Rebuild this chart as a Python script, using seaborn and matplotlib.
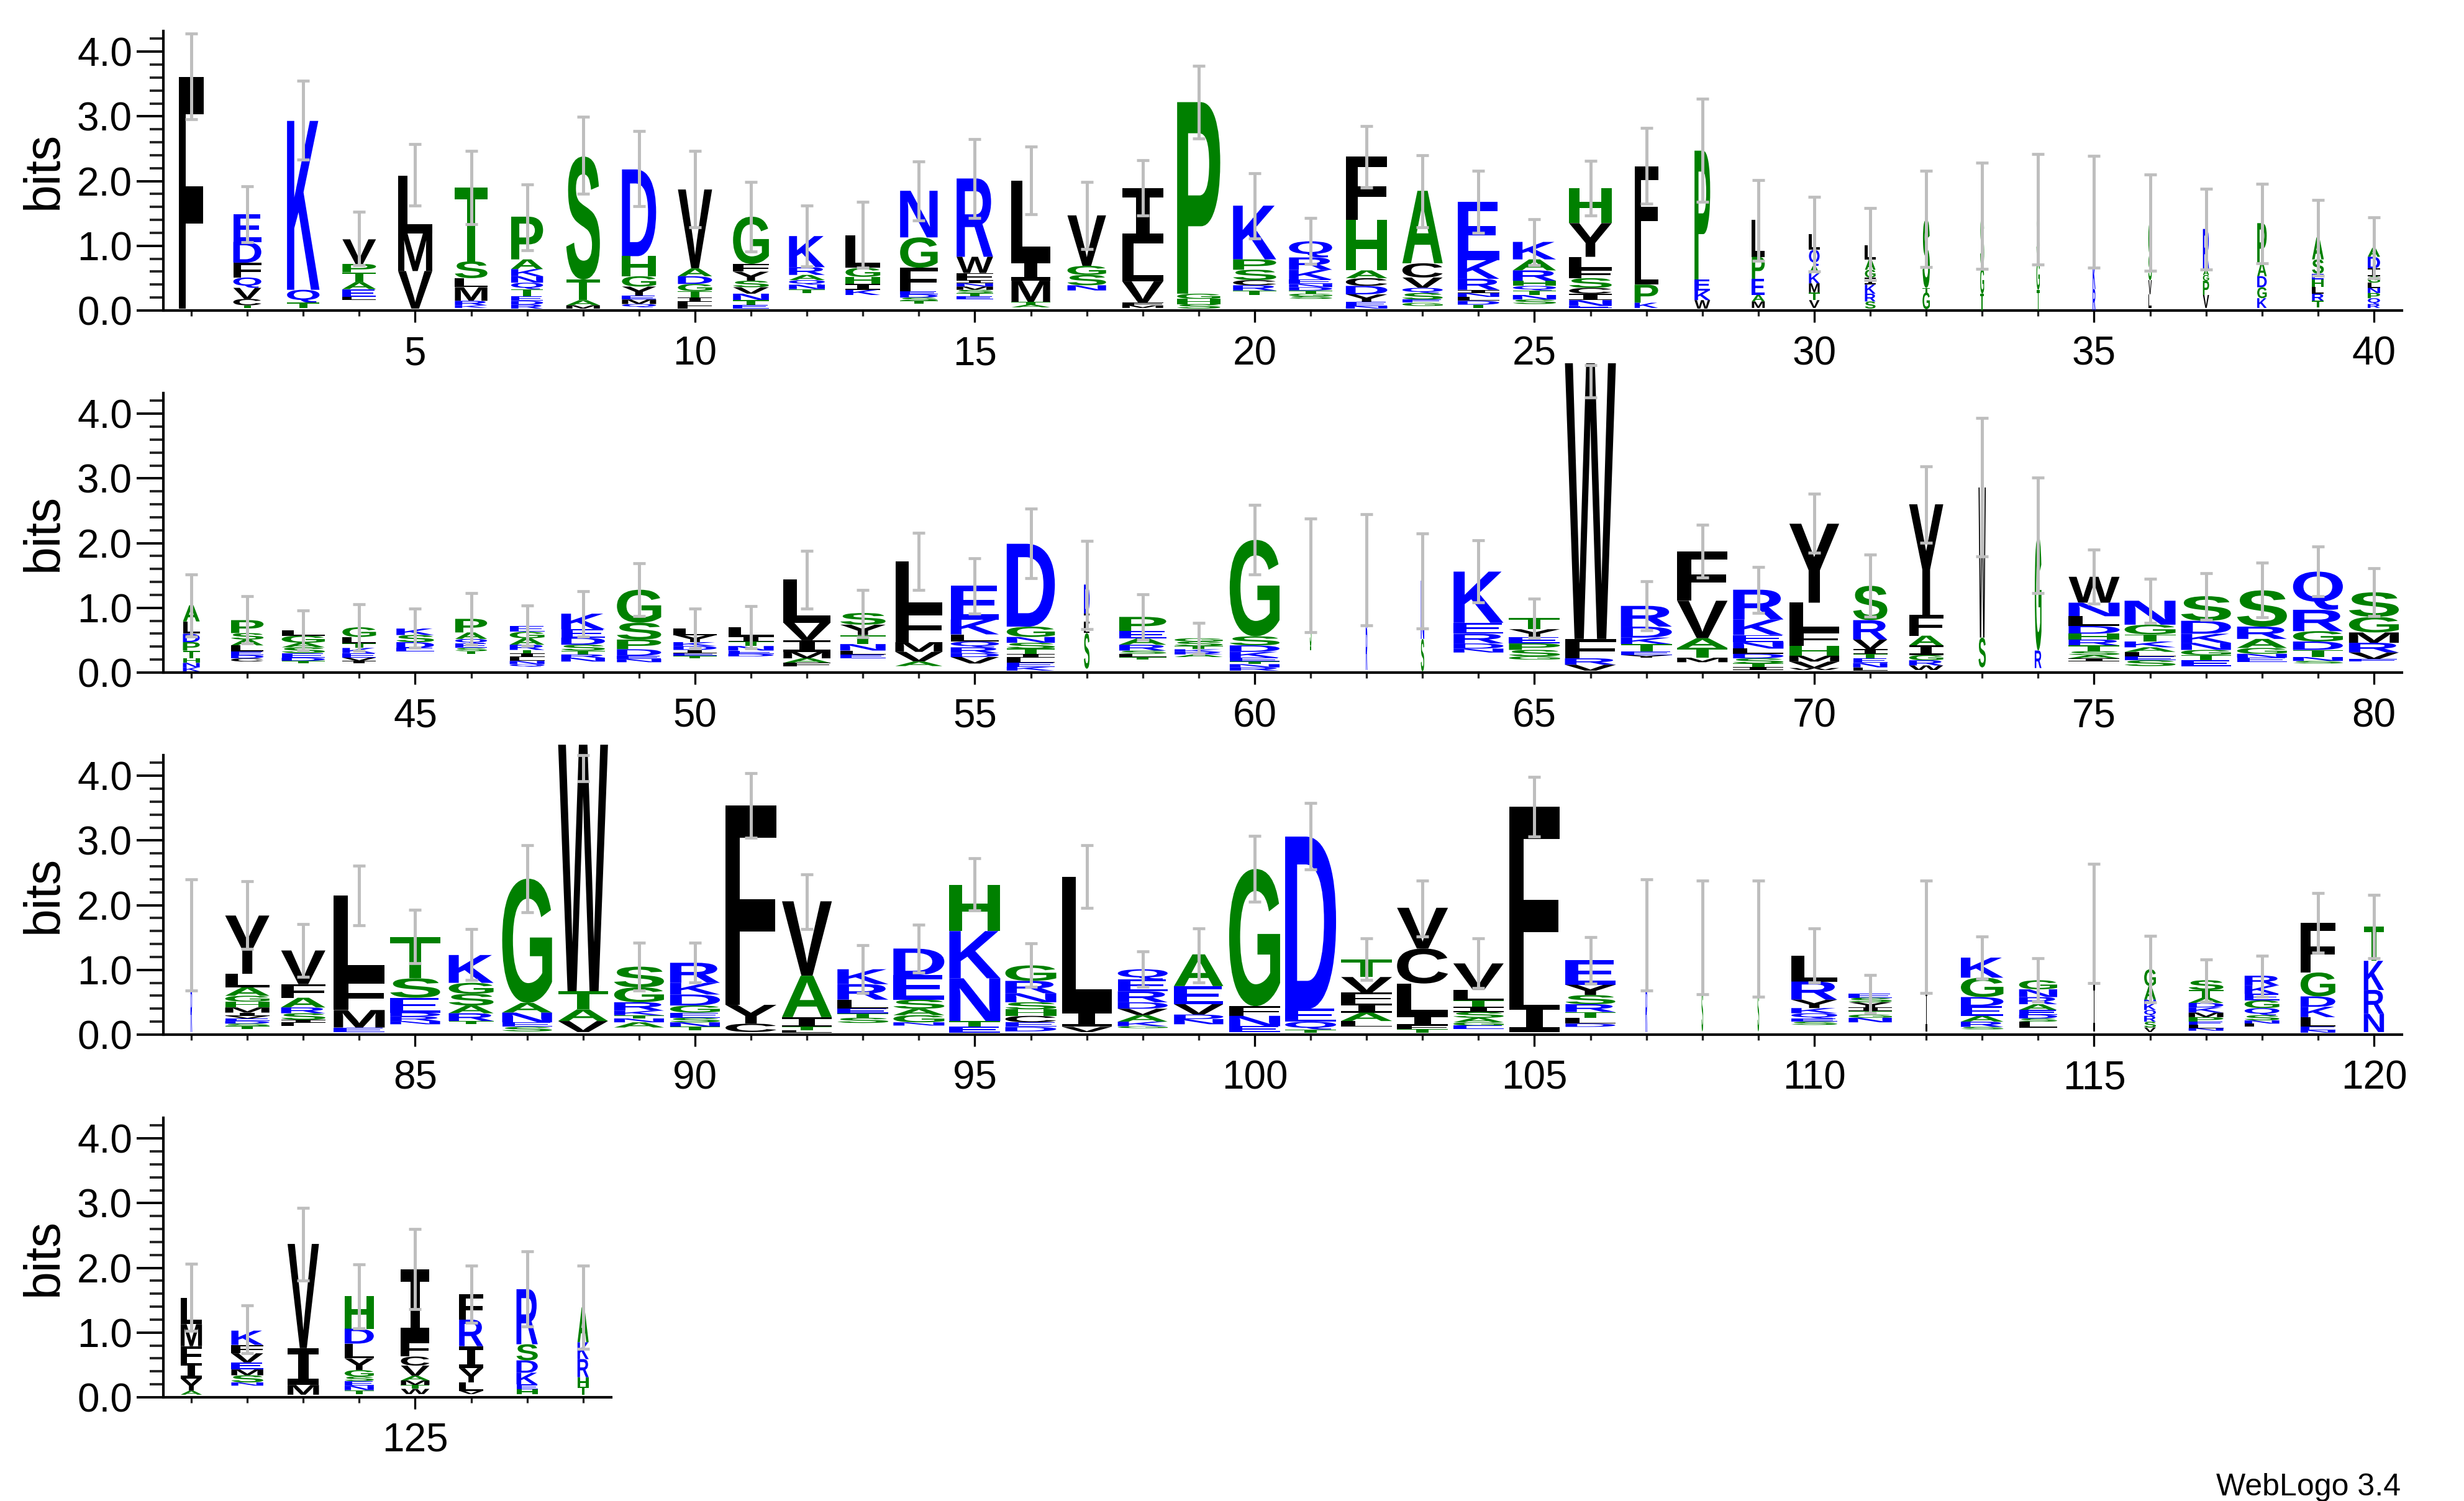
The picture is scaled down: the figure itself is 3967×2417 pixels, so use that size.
import numpy as np
import pandas as pd
import matplotlib
matplotlib.use("Agg")
import matplotlib.pyplot as plt
import seaborn as sns
from matplotlib.textpath import TextPath
from matplotlib.font_manager import FontProperties
from matplotlib.patches import PathPatch
from matplotlib.transforms import Affine2D
from matplotlib.ticker import MultipleLocator, FixedLocator, FormatStrFormatter

# ---------------- data ----------------
positions = list(range(1, 129))

stack_letters = [
    "F", "EDFQVCT", "KQT", "VPTAEL", "LMV", "TSLMRK", "PAKNQTEDR", "STAM", "DHGYEMQ", "VADGTILF",
    "GFYSVNTE", "KRAQNT", "LGHIK", "NGFEDST", "RWFINMSTE", "LIMTA", "VGSN", "ILVFM", "PGHS", "KPSCRT",
    "QRKENDTGS", "FHACDYEN", "ACVQSEG", "EKRINLDT", "KARHQTNS", "HYLFSCINE", "FLPK", "PEKW", "LPEAM", "LQAKMTV",
    "LAGIKRS", "STG", "SGT", "SGT", "NKR", "GSVL", "RAGPV", "PADGK", "ASEHLRT", "ADIGLNPQR",
    "ALDPTHNK", "PSALEDC", "LGASEDT", "GLTKEVI", "KSDE", "PAQEST", "EGARTILNQ", "KEDSTRN", "GSPDEN", "LYKDIET",
    "LITNED", "LVIMAF", "SYTNLE", "LFMVA", "EKLQRDV", "DGNSTILEK", "DILS", "PEARSLT", "GSTKRA", "GSDKETNR",
    "GST", "KR", "KNS", "KERDN", "TYEPSG", "WFRV", "RDKTEY", "FVATM", "RKENLDSTI", "YLFHMVW",
    "SRVITENL", "YFAIGRW", "WS", "GR", "WNLDHRTSAI", "NGTKALES", "SDKNGTE", "SRAGNE", "QRGDTNS", "SGMRVE",
    "KR", "YLAGHMIVEDST", "VFARSIL", "LFME", "TSEDRN", "KGSART", "GANES", "WTAV", "SGRKTNA", "RKDGESNT",
    "FYC", "VAITL", "KRLETS", "DESAGN", "HKNTE", "GRNSHCED", "LIV", "QERDVAKG", "AEVDN", "GFNE",
    "DEQT", "TVFIAL", "VCLIFT", "VLTISAGE", "FI", "EYSRTLD", "KR", "GS", "GS", "LRYKQES",
    "ESYITGN", "LI", "KGDEARS", "GNRAEDSL", "LI", "GANKQRSV", "STADKMPELN", "RKEGQSNL", "FGDKLEN", "TKRN",
    "LMFIYA", "KFVEMSN", "VIM", "HDLYGSENT", "IFCVAMTW", "FRIYLV", "RSDKEH", "AKRHT",
]

stack_heights = [
    [3.58], [0.43, 0.32, 0.23, 0.16, 0.17, 0.10, 0.04], [2.61, 0.20, 0.08], [0.38, 0.13, 0.15, 0.11, 0.12, 0.05],
    [0.89, 0.58, 0.58], [1.14, 0.26, 0.14, 0.21, 0.07, 0.04], [0.66, 0.15, 0.11, 0.10, 0.10, 0.11, 0.07, 0.06, 0.06],
    [1.90, 0.32, 0.08, 0.05], [1.34, 0.31, 0.16, 0.14, 0.06, 0.07, 0.05], [1.22, 0.12, 0.12, 0.11, 0.10, 0.07, 0.06, 0.04],
    [0.73, 0.12, 0.14, 0.10, 0.10, 0.10, 0.07, 0.06], [0.48, 0.12, 0.08, 0.07, 0.07, 0.06], [0.50, 0.14, 0.11, 0.09, 0.08],
    [0.72, 0.47, 0.36, 0.05, 0.05, 0.05, 0.04], [1.21, 0.25, 0.11, 0.05, 0.05, 0.05, 0.05, 0.05, 0.05],
    [1.22, 0.33, 0.33, 0.04, 0.04], [0.78, 0.14, 0.16, 0.08], [0.85, 0.59, 0.33, 0.04, 0.04], [2.96, 0.08, 0.08, 0.07],
    [0.83, 0.16, 0.16, 0.08, 0.08, 0.07],
    [0.25, 0.19, 0.15, 0.07, 0.05, 0.05, 0.05, 0.04, 0.04], [0.98, 0.78, 0.12, 0.12, 0.13, 0.12, 0.06, 0.04],
    [1.12, 0.22, 0.16, 0.08, 0.10, 0.05, 0.05], [0.90, 0.29, 0.17, 0.05, 0.06, 0.06, 0.06, 0.05],
    [0.27, 0.17, 0.16, 0.08, 0.07, 0.07, 0.07, 0.07], [0.54, 0.52, 0.19, 0.14, 0.15, 0.09, 0.10, 0.09, 0.03],
    [1.34, 0.49, 0.28, 0.08], [1.99, 0.17, 0.15, 0.13], [0.57, 0.34, 0.25, 0.10, 0.10],
    [0.24, 0.25, 0.12, 0.15, 0.14, 0.12, 0.12],
    [0.22, 0.16, 0.12, 0.11, 0.14, 0.12, 0.11], [1.06, 0.07, 0.26], [0.80, 0.40, 0.26], [0.80, 0.45, 0.32],
    [0.80, 0.40, 0.33], [0.50, 0.39, 0.22, 0.21], [0.63, 0.08, 0.09, 0.22, 0.20], [0.61, 0.21, 0.17, 0.17, 0.15],
    [0.34, 0.22, 0.09, 0.12, 0.10, 0.11, 0.10], [0.14, 0.18, 0.12, 0.10, 0.08, 0.08, 0.08, 0.09, 0.06],
    [0.25, 0.19, 0.13, 0.13, 0.12, 0.07, 0.07, 0.06], [0.20, 0.10, 0.09, 0.09, 0.06, 0.05, 0.05],
    [0.08, 0.11, 0.07, 0.09, 0.07, 0.05, 0.04], [0.15, 0.10, 0.07, 0.08, 0.07, 0.05, 0.04], [0.10, 0.11, 0.09, 0.05],
    [0.21, 0.10, 0.07, 0.07, 0.05, 0.04], [0.09, 0.10, 0.10, 0.08, 0.05, 0.06, 0.06, 0.05, 0.04],
    [0.24, 0.13, 0.11, 0.09, 0.06, 0.05, 0.06], [0.51, 0.26, 0.15, 0.10, 0.05, 0.05], [0.10, 0.11, 0.06, 0.06, 0.05, 0.04, 0.04],
    [0.14, 0.08, 0.07, 0.07, 0.05, 0.04], [0.67, 0.27, 0.18, 0.10, 0.07, 0.05], [0.18, 0.16, 0.14, 0.10, 0.06, 0.06],
    [0.76, 0.49, 0.15, 0.15, 0.07], [0.52, 0.23, 0.11, 0.09, 0.09, 0.06, 0.10],
    [1.28, 0.16, 0.09, 0.09, 0.08, 0.06, 0.08, 0.06, 0.06], [0.45, 0.15, 0.15, 0.55],
    [0.22, 0.11, 0.10, 0.09, 0.05, 0.05, 0.04], [0.05, 0.07, 0.05, 0.04, 0.04, 0.04],
    [1.49, 0.14, 0.10, 0.09, 0.06, 0.04, 0.05, 0.05],
    [0.60, 0.50, 0.35], [0.90, 0.65], [0.50, 0.40, 0.50], [0.79, 0.17, 0.15, 0.08, 0.06],
    [0.17, 0.12, 0.10, 0.10, 0.10, 0.05], [4.26, 0.30, 0.10, 0.09], [0.32, 0.17, 0.10, 0.11, 0.06, 0.04],
    [0.76, 0.58, 0.15, 0.15, 0.07], [0.46, 0.24, 0.11, 0.10, 0.08, 0.07, 0.08, 0.05, 0.05],
    [1.22, 0.44, 0.23, 0.15, 0.09, 0.10, 0.03],
    [0.53, 0.30, 0.15, 0.07, 0.07, 0.07, 0.07, 0.05], [1.71, 0.32, 0.15, 0.15, 0.08, 0.08, 0.07], [2.32, 0.46],
    [1.78, 0.27], [0.40, 0.21, 0.15, 0.12, 0.09, 0.09, 0.09, 0.06, 0.05, 0.05],
    [0.37, 0.15, 0.11, 0.09, 0.07, 0.07, 0.06, 0.09], [0.38, 0.20, 0.14, 0.11, 0.08, 0.08, 0.09],
    [0.56, 0.19, 0.14, 0.09, 0.06, 0.07], [0.59, 0.33, 0.16, 0.13, 0.11, 0.06, 0.04], [0.38, 0.24, 0.16, 0.15, 0.10, 0.04],
    [0.80, 0.70], [0.90, 0.21, 0.13, 0.09, 0.09, 0.08, 0.05, 0.04, 0.04, 0.04, 0.04, 0.04],
    [0.52, 0.21, 0.15, 0.09, 0.10, 0.05, 0.05], [1.28, 0.49, 0.27, 0.07], [0.64, 0.30, 0.23, 0.06, 0.07, 0.05],
    [0.43, 0.17, 0.18, 0.12, 0.12, 0.05], [1.92, 0.15, 0.15, 0.07, 0.07], [3.81, 0.28, 0.18, 0.17],
    [0.32, 0.23, 0.13, 0.07, 0.05, 0.06, 0.08], [0.31, 0.18, 0.17, 0.11, 0.08, 0.07, 0.07, 0.05],
    [3.08, 0.29, 0.13], [1.15, 0.64, 0.15, 0.05, 0.04], [0.23, 0.24, 0.14, 0.07, 0.07, 0.08],
    [0.41, 0.38, 0.14, 0.10, 0.11, 0.05], [0.71, 0.73, 0.66, 0.09, 0.09], [0.24, 0.19, 0.14, 0.11, 0.10, 0.10, 0.07, 0.07],
    [2.07, 0.25, 0.08], [0.16, 0.18, 0.17, 0.10, 0.10, 0.10, 0.07, 0.03], [0.49, 0.28, 0.16, 0.07, 0.08],
    [2.12, 0.15, 0.16, 0.09],
    [2.66, 0.20, 0.12, 0.05], [0.27, 0.24, 0.17, 0.14, 0.13, 0.09], [0.63, 0.54, 0.49, 0.16, 0.05, 0.06],
    [0.41, 0.16, 0.10, 0.08, 0.09, 0.07, 0.05, 0.05], [3.06, 0.42], [0.38, 0.16, 0.14, 0.12, 0.09, 0.09, 0.05],
    [0.80, 0.70], [0.80, 0.65], [0.80, 0.63], [0.40, 0.28, 0.13, 0.08, 0.08, 0.05, 0.05],
    [0.06, 0.07, 0.08, 0.06, 0.05, 0.05, 0.07], [0.80, 0.66], [0.31, 0.30, 0.14, 0.15, 0.09, 0.08, 0.04],
    [0.14, 0.12, 0.11, 0.09, 0.07, 0.06, 0.05, 0.09], [0.90, 0.77], [0.26, 0.21, 0.06, 0.10, 0.09, 0.09, 0.09, 0.07],
    [0.15, 0.12, 0.08, 0.07, 0.08, 0.07, 0.07, 0.05, 0.05, 0.04], [0.15, 0.13, 0.10, 0.12, 0.11, 0.08, 0.05, 0.05],
    [0.77, 0.37, 0.16, 0.16, 0.15, 0.05, 0.04], [0.53, 0.45, 0.37, 0.28],
    [0.41, 0.34, 0.26, 0.24, 0.19, 0.06], [0.22, 0.13, 0.14, 0.11, 0.09, 0.11, 0.05], [1.61, 0.57, 0.15],
    [0.50, 0.23, 0.23, 0.18, 0.10, 0.07, 0.07, 0.07, 0.06], [1.10, 0.25, 0.14, 0.16, 0.07, 0.07, 0.06, 0.08],
    [0.39, 0.41, 0.34, 0.22, 0.13, 0.05], [0.85, 0.25, 0.19, 0.18, 0.08, 0.07], [0.54, 0.26, 0.28, 0.15, 0.12],
]

stack_totals = [
    3.61, 1.49, 2.93, 1.10, 2.08, 1.90, 1.45, 2.38, 2.18, 1.87,
    1.45, 1.15, 1.16, 1.85, 2.04, 2.01, 1.47, 1.89, 3.22, 1.62,
    1.07, 2.38, 1.85, 1.68, 1.06, 1.89, 2.23, 2.47, 1.40, 1.18,
    1.01, 1.41, 1.46, 1.57, 1.53, 1.36, 1.26, 1.35, 1.13, 0.97,
    1.04, 0.81, 0.65, 0.70, 0.68, 0.83, 0.72, 0.91, 1.28, 0.68,
    0.70, 1.44, 0.92, 1.72, 1.34, 1.99, 1.36, 0.86, 0.53, 2.05,
    1.50, 1.59, 1.42, 1.56, 0.84, 4.78, 1.03, 1.87, 1.28, 2.30,
    1.34, 2.60, 2.86, 2.12, 1.48, 1.11, 1.18, 1.27, 1.56, 1.24,
    1.54, 1.84, 1.30, 2.15, 1.51, 1.23, 2.41, 4.48, 1.05, 1.11,
    3.54, 2.06, 1.01, 1.33, 2.31, 1.07, 2.44, 1.01, 1.24, 2.56,
    3.06, 1.16, 1.96, 1.10, 3.52, 1.15, 1.54, 1.50, 1.48, 1.22,
    0.63, 1.51, 1.19, 0.84, 1.72, 1.01, 0.84, 0.91, 1.73, 1.67,
    1.54, 1.03, 2.37, 1.56, 1.98, 1.59, 1.67, 1.39,
]

# visible stack width as a fraction of one column (gappy columns are narrower)
stack_widths = [
    0.44, 0.50, 0.58, 0.60, 0.61, 0.58, 0.57, 0.60, 0.61, 0.61,
    0.64, 0.64, 0.62, 0.67, 0.65, 0.69, 0.69, 0.73, 0.77, 0.77,
    0.77, 0.74, 0.72, 0.74, 0.77, 0.76, 0.42, 0.28, 0.23, 0.19,
    0.19, 0.13, 0.07, 0.06, 0.05, 0.06, 0.11, 0.17, 0.21, 0.22,
    0.30, 0.58, 0.77, 0.60, 0.67, 0.57, 0.62, 0.78, 0.79, 0.77,
    0.81, 0.84, 0.81, 0.84, 0.86, 0.86, 0.10, 0.84, 0.86, 0.89,
    0.03, 0.03, 0.06, 0.89, 0.91, 0.91, 0.91, 0.90, 0.90, 0.89,
    0.61, 0.61, 0.13, 0.12, 0.91, 0.91, 0.89, 0.89, 0.89, 0.89,
    0.03, 0.79, 0.79, 0.91, 0.89, 0.80, 0.89, 0.89, 0.89, 0.89,
    0.91, 0.89, 0.91, 0.91, 0.91, 0.91, 0.89, 0.89, 0.88, 0.91,
    0.91, 0.91, 0.91, 0.90, 0.89, 0.89, 0.03, 0.03, 0.03, 0.82,
    0.77, 0.03, 0.76, 0.68, 0.04, 0.21, 0.62, 0.62, 0.62, 0.36,
    0.38, 0.57, 0.56, 0.52, 0.51, 0.43, 0.38, 0.20,
]

err_low = [
    2.96, 1.06, 2.33, 0.70, 1.62, 1.33, 0.93, 1.80, 1.61, 1.29,
    0.91, 0.68, 0.66, 1.39, 1.43, 1.49, 0.95, 1.47, 2.66, 1.11,
    0.72, 1.90, 1.29, 1.20, 0.70, 1.47, 1.65, 1.68, 0.77, 0.60,
    0.47, 0.67, 0.64, 0.71, 0.66, 0.61, 0.63, 0.73, 0.54, 0.50,
    0.56, 0.45, 0.35, 0.34, 0.38, 0.43, 0.41, 0.56, 0.87, 0.37,
    0.37, 0.99, 0.55, 1.28, 0.91, 1.46, 0.67, 0.51, 0.29, 1.52,
    0.62, 0.73, 0.68, 1.08, 0.54, 4.25, 0.65, 1.47, 0.92, 1.85,
    0.86, 2.01, 1.79, 1.23, 1.07, 0.77, 0.82, 0.85, 1.18, 0.87,
    0.68, 1.32, 0.89, 1.69, 1.10, 0.84, 1.89, 3.92, 0.68, 0.81,
    3.04, 1.63, 0.64, 0.96, 1.92, 0.74, 1.96, 0.74, 0.81, 2.05,
    2.55, 0.84, 1.52, 0.72, 3.06, 0.79, 0.68, 0.62, 0.59, 0.81,
    0.34, 0.64, 0.86, 0.51, 0.80, 0.50, 0.51, 0.59, 1.27, 1.18,
    1.03, 0.68, 1.80, 1.07, 1.36, 1.15, 1.09, 0.75,
]

err_high = [
    4.28, 1.92, 3.55, 1.53, 2.57, 2.47, 1.95, 2.99, 2.77, 2.47,
    1.99, 1.62, 1.68, 2.30, 2.65, 2.53, 1.99, 2.32, 3.78, 2.12,
    1.43, 2.85, 2.40, 2.16, 1.41, 2.31, 2.82, 3.27, 2.02, 1.76,
    1.58, 2.16, 2.28, 2.42, 2.39, 2.10, 1.88, 1.96, 1.71, 1.44,
    1.52, 1.18, 0.96, 1.06, 0.99, 1.23, 1.04, 1.26, 1.69, 0.99,
    1.03, 1.88, 1.28, 2.16, 1.77, 2.53, 2.03, 1.21, 0.77, 2.59,
    2.38, 2.45, 2.15, 2.04, 1.14, 4.75, 1.41, 2.28, 1.63, 2.76,
    1.82, 3.19, 3.93, 3.01, 1.90, 1.45, 1.54, 1.70, 1.95, 1.61,
    2.40, 2.37, 1.71, 2.61, 1.93, 1.63, 2.93, 4.32, 1.42, 1.42,
    4.04, 2.48, 1.38, 1.70, 2.73, 1.41, 2.93, 1.29, 1.64, 3.07,
    3.58, 1.49, 2.38, 1.49, 3.98, 1.51, 2.40, 2.38, 2.38, 1.64,
    0.92, 2.38, 1.52, 1.18, 2.64, 1.53, 1.16, 1.22, 2.19, 2.16,
    2.06, 1.42, 2.93, 2.05, 2.60, 2.03, 2.26, 2.03,
]

row_starts = [1, 41, 81, 121]
row_ends = [40, 80, 120, 128]
y_tick_values = [0, 1, 2, 3, 4]
y_max = 4.32

blue_letters = "KRDENQ"
green_letters = "GSTAPH"

# ---------------- style ----------------
sns.set_theme(style="ticks")
plt.rcParams["font.family"] = ["Liberation Sans", "DejaVu Sans"]

W_PX, H_PX, DPI = 3967, 2417, 100
fig = plt.figure(figsize=(W_PX / DPI, H_PX / DPI), dpi=DPI)
fig.patch.set_facecolor("white")

fp_main = FontProperties(family="Liberation Sans", weight="bold")
fp_serif_i = FontProperties(family="DejaVu Sans Mono", weight="bold")
_glyphs = {}


def glyph(ch):
    if ch not in _glyphs:
        _glyphs[ch] = TextPath((0, 0), ch, size=100,
                               prop=fp_serif_i if ch == "I" else fp_main)
    return _glyphs[ch]


def color_of(ch):
    if ch in blue_letters:
        return "#0000FF"
    if ch in green_letters:
        return "#008000"
    return "#000000"


def draw_letter(ax, ch, xc, y0, w, h):
    p = glyph(ch)
    ext = p.get_extents()
    tr = (Affine2D().translate(-ext.x0, -ext.y0)
          .scale(w / ext.width, h / ext.height)
          .translate(xc - w / 2.0, y0))
    patch = PathPatch(tr.transform_path(p), facecolor=color_of(ch), edgecolor="none",
                      lw=0, transform=ax.transData, clip_on=False, zorder=3)
    ax.add_patch(patch)


df = pd.DataFrame({"pos": positions, "total": stack_totals, "width": stack_widths,
                   "lo": err_low, "hi": err_high})
df["mid"] = (df["lo"] + df["hi"]) / 2.0
df["half"] = (df["hi"] - df["lo"]) / 2.0

COL_PX = 90.1
LEFT_PX = 263
AX_H_PX = y_max * 104.2
baselines_px = [500, 1083, 1666, 2250]

for r, (s, e) in enumerate(zip(row_starts, row_ends)):
    n = e - s + 1
    ax_w_px = n * COL_PX
    ax = fig.add_axes([LEFT_PX / W_PX, 1 - baselines_px[r] / H_PX,
                       ax_w_px / W_PX, AX_H_PX / H_PX])
    ax.set_facecolor("white")
    ax.set_xlim(s - 0.5, e + 0.5)
    ax.set_ylim(0, y_max)

    sub = df[(df["pos"] >= s) & (df["pos"] <= e)]
    for _, row in sub.iterrows():
        i = int(row["pos"]) - 1
        letters = stack_letters[i]
        heights = stack_heights[i]
        w = row["width"]
        y = max(row["total"], sum(heights))
        for ch, h in zip(letters, heights):
            y -= h
            draw_letter(ax, ch, row["pos"], y, w, h)

    eb = ax.errorbar(sub["pos"], sub["mid"], yerr=sub["half"], fmt="none",
                     ecolor="#BEBEBE", elinewidth=3.6, capsize=7.5, capthick=3.4, zorder=5)
    for child in eb.get_children():
        child.set_clip_on(False)

    # axes decoration
    sns.despine(ax=ax, top=True, right=True)
    for side in ("left", "bottom"):
        ax.spines[side].set_linewidth(3.0)
        ax.spines[side].set_color("black")
    ax.grid(False)

    ax.yaxis.set_major_locator(FixedLocator(y_tick_values))
    ax.yaxis.set_major_formatter(FormatStrFormatter("%.1f"))
    ax.yaxis.set_minor_locator(MultipleLocator(0.2))
    ax.tick_params(axis="y", which="major", length=31, width=2.8, direction="out",
                   labelsize=46, pad=5, colors="black")
    ax.tick_params(axis="y", which="minor", length=16, width=2.8, direction="out")

    major_x = [p for p in range(s, e + 1) if p % 5 == 0]
    ax.xaxis.set_major_locator(FixedLocator(major_x))
    ax.xaxis.set_minor_locator(FixedLocator(list(range(s, e + 1))))
    ax.set_xticklabels([str(p) for p in major_x])
    ax.tick_params(axis="x", which="major", length=13.5, width=2.4, direction="out",
                   labelsize=46, pad=16, colors="black")
    ax.tick_params(axis="x", which="minor", length=6.5, width=2.4, direction="out")

    ax.set_ylabel("bits", fontsize=58, color="black", va="center")
    ax.yaxis.set_label_coords(-192 / ax_w_px, 0.5)

fig.text(3865 / W_PX, 1 - 2408 / H_PX, "WebLogo 3.4", ha="right", va="baseline",
         fontsize=36, color="black")

fig.savefig("out.png", dpi=DPI, facecolor="white")
